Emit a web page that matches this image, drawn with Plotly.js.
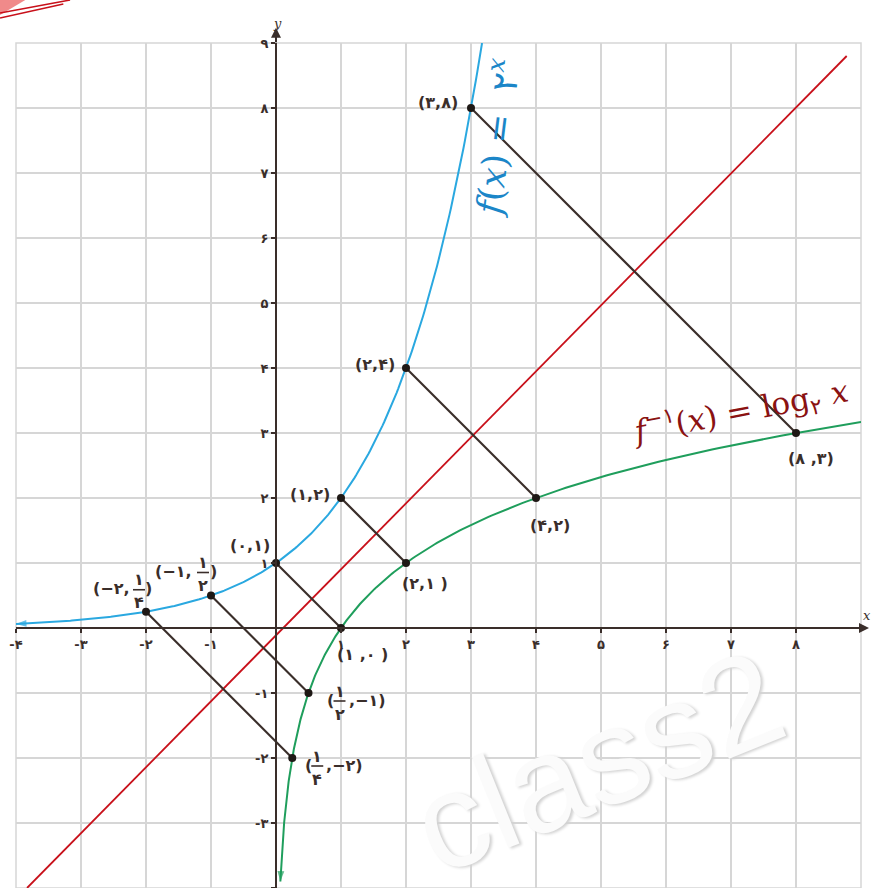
<!DOCTYPE html>
<html><head><meta charset="utf-8">
<script src="https://cdn.plot.ly/plotly-3.0.1.min.js"></script>
<style>html,body{margin:0;padding:0;background:#fff;}#chart{width:877px;height:888px;}</style>
</head><body><div id="chart"></div>
<script>
// ---- data ----
const fX = [-2, -1, 0, 1, 2, 3];          // points on f(x)=2^x
const fY = [0.25, 0.5, 1, 2, 4, 8];
const invX = [0.25, 0.5, 1, 2, 4, 8];     // mirrored points on log2 x
const invY = [-2, -1, 0, 1, 2, 3];
const expStart = -4, expEnd = 3.17;       // visible x-span of 2^x
const logStart = -3.9, logEnd = 3.17;     // visible y-span of log2 x
const diagX = [-3.83, 8.78];              // the line y = x as drawn
const diagY = [-4, 8.8];
const xTickVals = [-4, -3, -2, -1, 1, 2, 3, 4, 5, 6, 7, 8];
const xTickText = ['-۴', '-۳', '-۲', '-۱', '۱', '۲', '۳', '۴', '۵', '۶', '۷', '۸'];
const yTickVals = [-4, -3, -2, -1, 1, 2, 3, 4, 5, 6, 7, 8, 9];
const yTickText = ['-۴', '-۳', '-۲', '-۱', '۱', '۲', '۳', '۴', '۵', '۶', '۷', '۸', '۹'];
const fLabels = ['', '', '(۰,۱)', '(۱,۲)', '(۲,۴)', '(۳,۸)'];
const invLabels = ['', '', '(۱ ,۰ )', '(۲,۱ )', '(۴,۲)', '(۸ ,۳)'];
// fraction labels: [prefix, numerator, denominator, suffix]
const fFrac = [['(−۲,', '۱', '۴', ')'], ['(−۱,', '۱', '۲', ')']];
const invFrac = [['(', '۱', '۴', ',−۲)'], ['(', '۱', '۲', ',−۱)']];

// ---- styles ----
const INK = '#3a2e2a';
const BLUE = '#2aa8e0', GREEN = '#1f9e5c', RED = '#c8101a';
const labFont = {family: 'DejaVu Sans', size: 16, color: INK, weight: 'bold'};

// curve sampling from the functions named in the chart
const N = 300;
const expX = [], expY = [], logX = [], logY = [];
for (let i = 0; i <= N; i++) {
  const t = expStart + (expEnd - expStart) * i / N;
  expX.push(t); expY.push(Math.pow(2, t));
  const s = logStart + (logEnd - logStart) * i / N;
  logY.push(s); logX.push(Math.pow(2, s));
}
function arrowTrace(xs, ys, color) {
  return {x: xs, y: ys, mode: 'markers', type: 'scatter', cliponaxis: false, hoverinfo: 'skip',
    marker: {symbol: 'arrow', angleref: 'previous', size: [0, 11], color: color, line: {width: 0}}};
}

const segX = [], segY = [];
for (let i = 0; i < fX.length; i++) { segX.push(fX[i], invX[i], null); segY.push(fY[i], invY[i], null); }

const traces = [
  {x: diagX, y: diagY, mode: 'lines', line: {color: RED, width: 1.8}, hoverinfo: 'skip'},
  {x: segX, y: segY, mode: 'lines', line: {color: INK, width: 2.2}, hoverinfo: 'skip'},
  {x: expX, y: expY, mode: 'lines', line: {color: BLUE, width: 2}, hoverinfo: 'skip'},
  {x: logX, y: logY, mode: 'lines', line: {color: GREEN, width: 2}, hoverinfo: 'skip'},
  arrowTrace([expX[1], expX[0]], [expY[1], expY[0]], BLUE),
  arrowTrace([expX[N-1], expX[N]], [expY[N-1], expY[N]], BLUE),
  arrowTrace([logX[1], logX[0]], [logY[1], logY[0]], GREEN),
  arrowTrace([logX[N-1], logX[N]], [logY[N-1], logY[N]], GREEN),
  {x: fX.concat(invX), y: fY.concat(invY), mode: 'markers', cliponaxis: false,
   marker: {color: '#1e1815', size: 8}, hoverinfo: 'skip'}
];

const ann = [];
const shapes = [];
// simple point labels
const fOff = [null, null, [-26, 18], [-31, 4], [-31, 4], [-33, 6]];
const invOff = [null, null, [21, -26], [19, -20], [14, -27], [15, -25]];
for (let i = 0; i < fX.length; i++) {
  if (fLabels[i]) ann.push({x: fX[i], y: fY[i], text: fLabels[i], showarrow: false, xshift: fOff[i][0], yshift: fOff[i][1], font: labFont});
  if (invLabels[i]) ann.push({x: invX[i], y: invY[i], text: invLabels[i], showarrow: false, xshift: invOff[i][0], yshift: invOff[i][1], font: labFont});
}
// fraction labels: offsets [prefixX, fracCenterX, suffixX, baseY]
function frac(px, py, parts, o, suffixLeft) {
  const [pre, num, den, suf] = parts;
  const [preX, fx, sufX, by] = o;
  ann.push({x: px, y: py, text: pre, showarrow: false, xanchor: suffixLeft ? 'center' : 'right', xshift: preX, yshift: by, font: labFont});
  ann.push({x: px, y: py, text: num, showarrow: false, xshift: fx, yshift: by + 9, font: labFont});
  ann.push({x: px, y: py, text: den, showarrow: false, xshift: fx, yshift: by - 14, font: labFont});
  ann.push({x: px, y: py, text: suf, showarrow: false, xanchor: suffixLeft ? 'left' : 'center', xshift: sufX, yshift: by, font: labFont});
  shapes.push({type: 'line', xref: 'x', yref: 'y', xsizemode: 'pixel', ysizemode: 'pixel', xanchor: px, yanchor: py,
    x0: fx - 6, x1: fx + 6, y0: by - 1, y1: by - 1, line: {color: INK, width: 1.6}});
}
frac(fX[0], fY[0], fFrac[0], [-14, -7, 2, 23], false);
frac(fX[1], fY[1], fFrac[1], [-17, -8, 2, 24], false);
frac(invX[0], invY[0], invFrac[0], [16, 25, 32, -7], true);
frac(invX[1], invY[1], invFrac[1], [22, 31, 38, -7], true);

// function labels
ann.push({x: 3.38, y: 7.55, text: '<i>f</i>(<i>x</i>)&nbsp;=&nbsp;&nbsp;۲<sup><i>x</i></sup>', showarrow: false, textangle: -83,
  font: {family: 'DejaVu Serif', size: 35, color: '#1b86c8'}});
ann.push({x: 7.15, y: 3.33, text: '<i>f</i><sup>−۱</sup>(<i>x</i>)&nbsp;=&nbsp;log<sub>۲</sub>&nbsp;<i>x</i>', showarrow: false, textangle: -11,
  font: {family: 'DejaVu Serif', size: 31, color: '#8a1212'}});

// axis arrows and names
const ORIGIN_X = 4 / 13, ORIGIN_Y = 4 / 13;
ann.push({xref: 'paper', yref: 'paper', x: 1.0095, y: ORIGIN_Y, ax: -14, ay: 0, text: '', showarrow: true, arrowhead: 2, arrowsize: 1, arrowwidth: 2, arrowcolor: INK});
ann.push({xref: 'paper', yref: 'paper', x: ORIGIN_X, y: 1.018, ax: 0, ay: 16, text: '', showarrow: true, arrowhead: 2, arrowsize: 1, arrowwidth: 2, arrowcolor: INK});
ann.push({xref: 'paper', yref: 'paper', x: 1.0142, y: 0.311, text: '<i>x</i>', showarrow: false, font: {family: 'DejaVu Serif', size: 13, color: INK}});
ann.push({xref: 'paper', yref: 'paper', x: 0.302, y: 1.034, text: '<i>y</i>', showarrow: false, font: {family: 'DejaVu Serif', size: 13, color: INK}});

// watermark
ann.push({x: 4.95, y: -2.05, text: 'class2', showarrow: false, textangle: -22,
  font: {family: 'Liberation Sans Narrow, Liberation Sans', size: 135, color: '#fbfbfb', shadow: '2px 2px 3px #d2d2d2'}});

// grid border and corner logo fragment
shapes.push({type: 'rect', xref: 'paper', yref: 'paper', x0: 0, x1: 1, y0: 0, y1: 1, line: {color: '#d6d6d6', width: 1.5}, layer: 'below'});
shapes.push({type: 'path', xref: 'paper', yref: 'paper', path: 'M -0.0189 1.0509 L 0.011 1.0509 L -0.0189 1.033 Z', fillcolor: '#f08a8a', line: {width: 0}});
shapes.push({type: 'line', xref: 'paper', yref: 'paper', x0: -0.0189, y0: 1.0355, x1: 0.064, y1: 1.0509, line: {color: '#c8101a', width: 1.5}});
shapes.push({type: 'line', xref: 'paper', yref: 'paper', x0: -0.0189, y0: 1.0296, x1: 0.056, y1: 1.0462, line: {color: '#c8101a', width: 1.5}});

const gridCol = '#d6d6d6';
const tickFont = {family: 'DejaVu Sans', size: 13, color: INK, weight: 'bold'};
const axBase = {
  range: [-4, 9], anchor: 'free', position: 4 / 13, tickmode: 'array', ticks: 'outside', ticklen: 4, tickwidth: 1.5,
  tickcolor: INK, showline: true, linecolor: INK, linewidth: 2, zeroline: false, showgrid: true, gridcolor: gridCol,
  gridwidth: 1.5, minor: {tickmode: 'linear', tick0: 0, dtick: 1, showgrid: true, gridcolor: gridCol, gridwidth: 1.5, ticks: ''},
  tickfont: tickFont, fixedrange: true, automargin: false
};
const layout = {
  width: 877, height: 888, margin: {l: 16, r: 16, t: 43, b: 0, pad: 0},
  paper_bgcolor: '#ffffff', plot_bgcolor: '#ffffff', showlegend: false,
  xaxis: Object.assign({}, axBase, {tickvals: xTickVals, ticktext: xTickText}),
  yaxis: Object.assign({}, axBase, {tickvals: yTickVals, ticktext: yTickText}),
  annotations: ann, shapes: shapes
};
Plotly.newPlot('chart', traces, layout, {displayModeBar: false, staticPlot: true});
</script></body></html>
